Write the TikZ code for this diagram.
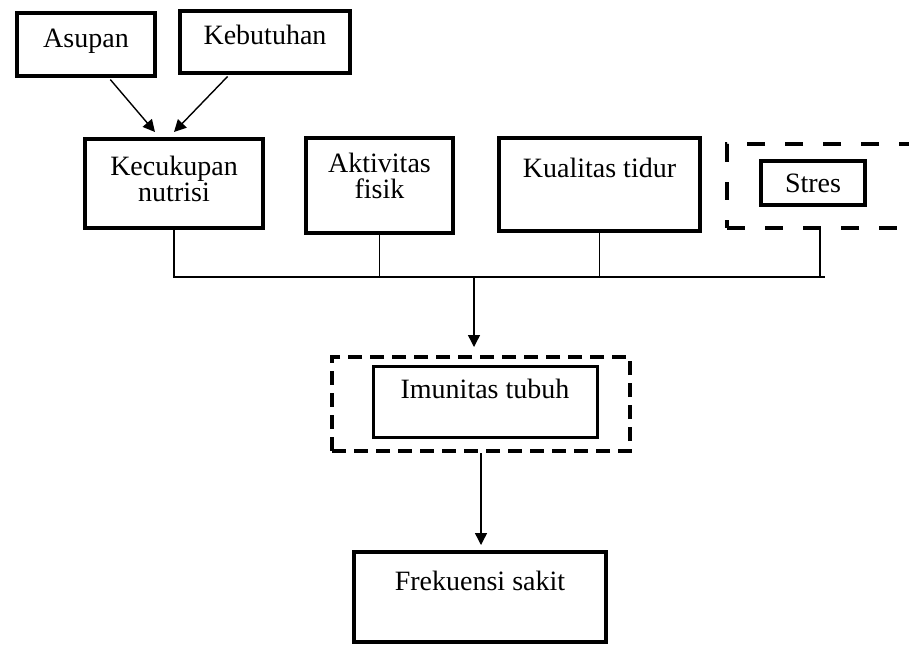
\documentclass[tikz,border=0pt]{standalone}
\usepackage{fontspec}
\setmainfont{Liberation Serif}
\usetikzlibrary{arrows.meta}
\begin{document}
\begin{tikzpicture}[x=0.5pt, y=-0.5pt,
    font=\fontsize{14}{13.25}\selectfont,
    box/.style={draw, line width=2pt, inner xsep=0pt, inner ysep=0pt,
      anchor=north west, align=center},
    frame/.style={draw, line width=2pt, anchor=north west},
    link/.style={line width=0.6pt},
    arrow/.style={line width=0.7pt, -{Triangle[length=6pt, width=6pt]}}]
  \useasboundingbox (0,0) rectangle (909,644);
  % Top row: inputs of nutrisi
  \node[box, minimum width=69pt, text height=17pt, text depth=14.5pt]
    (asupan) at (15,11) {Asupan};
  \node[box, minimum width=85pt, text height=16.5pt, text depth=14.5pt]
    (kebutuhan) at (178,9) {Kebutuhan};
  % Second row: factors (two-line nodes sit on their last line)
  \node[box, minimum width=89pt, text height=31.25pt, text depth=13.25pt]
    (nutrisi) at (83,137) {Kecukupan\\nutrisi};
  \node[box, minimum width=73.5pt, text height=30.25pt, text depth=17.25pt]
    (aktivitas) at (304,136) {Aktivitas\\fisik};
  \node[box, minimum width=100.5pt, text height=19.5pt, text depth=27pt]
    (tidur) at (497,136) {Kualitas tidur};
  \node[frame, dash pattern=on 9pt off 10pt, minimum width=93pt, minimum height=42pt]
    (stresgrp) at (725,142) {};
  \node[box, minimum width=52pt, text height=15.5pt, text depth=6.5pt]
    (stres) at (759,159) {Stres};
  % Middle: imunitas
  \node[frame, dash pattern=on 7pt off 4pt, minimum width=149pt, minimum height=47pt]
    (imungrp) at (330,355) {};
  \node[box, line width=1.5pt, minimum width=112pt, text height=16.25pt, text depth=19.25pt]
    (imunitas) at (371.5,364.5) {Imunitas tubuh};
  % Bottom: outcome
  \node[box, minimum width=126pt, text height=19pt, text depth=26pt]
    (sakit) at (352,550) {Frekuensi sakit};
  % Arrows into nutrisi
  \draw[arrow, shorten <=1pt] ([xshift=11.5pt]asupan.south)
    -- ([xshift=-9.5pt, yshift=2.5pt]nutrisi.north);
  \draw[arrow, shorten <=1pt] ([xshift=-18pt]kebutuhan.south)
    -- ([yshift=2.5pt]nutrisi.north);
  % Collecting rail
  \coordinate (railR) at (825,277);
  \coordinate (railmid) at (474,277);
  \draw[link] (nutrisi.south) -- (nutrisi.south |- railR) -- (railR);
  \foreach \n in {aktivitas, tidur, stresgrp} {
    \draw[link] (\n.south) -- (\n.south |- railR);
  }
  \draw[arrow, shorten >=4pt] (railmid) -- (railmid |- imungrp.north);
  \draw[arrow, shorten >=2.5pt] (imungrp.south) -- (imungrp.south |- sakit.north);
\end{tikzpicture}
\end{document}
